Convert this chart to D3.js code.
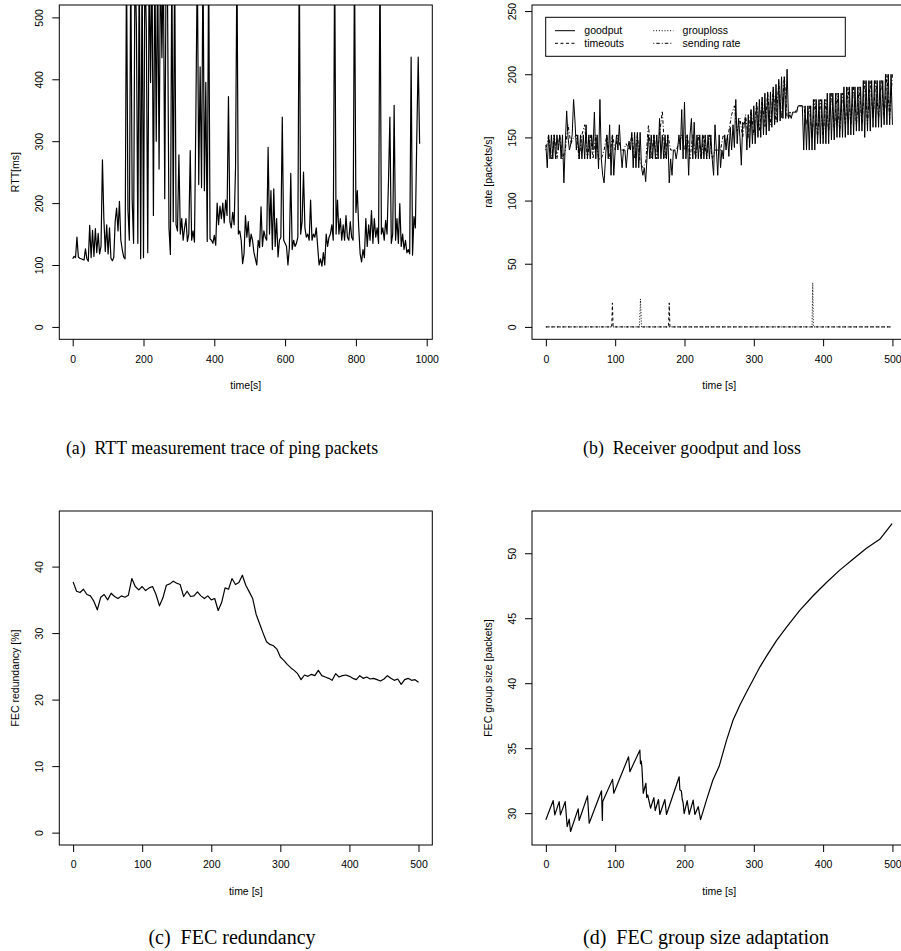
<!DOCTYPE html>
<html>
<head>
<meta charset="utf-8">
<script src="https://cdn.jsdelivr.net/npm/d3@7"></script>
<style>
  body { margin: 0; background: #fff; }
  svg { display: block; }
  .tick text, .axis-title, .legend text {
    font-family: 'Liberation Sans', Arial, Helvetica, sans-serif;
    font-size: 10.5px;
    fill: #000;
  }
  .caption {
    font-family: 'Liberation Serif', 'Times New Roman', serif;
    font-size: 20px;
    fill: #000;
  }
  .caption.top { font-size: 17.8px; }
</style>
</head>
<body>
<script>
// (a) RTT of ping packets, one sample every 4 s
const rttStart = 0;
const rttStep = 4;
const rttMs = [
  110, 114, 112, 145, 113, 111, 110, 109, 108, 126,
  110, 106, 164, 112, 156, 114, 159, 120, 151, 118,
  130, 270, 175, 122, 165, 118, 160, 111, 107, 112,
  170, 192, 155, 203, 140, 125, 113, 110, 600, 190,
  140, 600, 205, 135, 600, 485, 135, 600, 110, 600,
  112, 600, 480, 120, 600, 395, 600, 180, 600, 300,
  600, 255, 600, 435, 600, 207, 600, 520, 160, 117,
  600, 170, 600, 165, 155, 278, 150, 175, 140, 160,
  175, 138, 150, 285, 140, 155, 137, 345, 600, 230,
  420, 225, 600, 220, 395, 138, 600, 142, 140, 135,
  148, 132, 200, 165, 195, 175, 200, 168, 205, 180,
  372, 170, 160, 185, 165, 258, 600, 150, 155, 140,
  102, 118, 180, 145, 170, 130, 150, 140, 120, 110,
  100, 140, 128, 194, 130, 155, 145, 140, 290, 150,
  220, 125, 223, 130, 175, 113, 140, 145, 339, 140,
  135, 130, 100, 128, 248, 125, 140, 130, 135, 145,
  600, 150, 170, 250, 160, 145, 150, 140, 205, 140,
  150, 145, 160, 130, 100, 110, 98, 120, 100, 150,
  130, 145, 150, 165, 140, 600, 150, 205, 150, 175,
  140, 165, 140, 180, 145, 140, 170, 145, 140, 600,
  185, 220, 160, 118, 105, 125, 112, 175, 130, 165,
  140, 188, 135, 175, 145, 160, 135, 600, 150, 160,
  140, 172, 150, 234, 339, 135, 150, 358, 140, 175,
  135, 199, 130, 150, 125, 140, 120, 125, 118, 436,
  116, 178, 160, 307, 436, 296
];

// (b) receiver goodput (every 2 s) and sending rate (every 4 s)
const goodStep = 2;
const goodput = [
  144, 126, 152, 133, 152, 133, 152, 133, 152, 140,
  152, 133, 152, 114, 145, 171, 150, 140, 145, 152,
  180, 163, 140, 152, 133, 152, 133, 152, 133, 160,
  133, 152, 133, 152, 140, 170, 133, 152, 125, 180,
  133, 120, 114, 133, 152, 133, 160, 120, 152, 120,
  140, 152, 140, 160, 140, 126, 140, 140, 126, 140,
  147, 140, 154, 126, 154, 126, 154, 126, 154, 126,
  120, 126, 115, 135, 152, 133, 152, 133, 152, 133,
  152, 133, 165, 133, 152, 133, 152, 133, 152, 114,
  133, 120, 140, 140, 133, 140, 152, 140, 172, 133,
  178, 133, 152, 120, 152, 165, 133, 162, 133, 152,
  133, 152, 133, 152, 133, 152, 133, 152, 133, 152,
  133, 120, 160, 140, 120, 152, 126, 140, 133, 152,
  140, 152, 135, 158, 140, 160, 142, 180, 145, 165,
  150, 128, 162, 160, 165, 140, 168, 142, 172, 145,
  175, 145, 178, 150, 180, 150, 182, 152, 185, 152,
  186, 155, 186, 158, 190, 160, 192, 162, 196, 163,
  198, 165, 198, 165, 204, 165, 168, 165, 170, 170,
  170, 170, 175, 175, 175, 175, 140, 175, 140, 175,
  140, 175, 140, 180, 140, 180, 145, 180, 145, 180,
  145, 180, 145, 185, 145, 185, 148, 185, 148, 185,
  150, 185, 150, 185, 150, 190, 150, 190, 152, 190,
  152, 190, 152, 190, 155, 190, 155, 190, 155, 195,
  150, 195, 155, 195, 155, 195, 158, 195, 158, 195,
  158, 195, 158, 195, 160, 200, 160, 200, 160, 200,
  160
];
const sendStep = 4;
const sendingRate = [
  140, 152, 133, 152, 133, 152, 133, 140, 160, 145,
  150, 152, 133, 152, 160, 133, 152, 133, 152, 133,
  133, 140, 152, 133, 152, 140, 152, 140, 140, 145,
  140, 152, 133, 152, 130, 126, 130, 160, 133, 152,
  133, 152, 171, 133, 152, 140, 140, 140, 145, 152,
  140, 152, 133, 152, 133, 152, 133, 152, 133, 152,
  133, 140, 140, 140, 152, 145, 155, 168, 175, 155,
  165, 150, 168, 150, 172, 152, 178, 155, 180, 158,
  185, 160, 188, 162, 194, 165, 198, 166, 170, 168,
  170, 175, 175, 175, 160, 175, 150, 180, 150, 180,
  150, 180, 155, 185, 155, 185, 155, 185, 160, 190,
  160, 190, 160, 190, 160, 195, 160, 195, 165, 195,
  165, 195, 165, 200, 165, 200
];
const timeoutT = [0, 95, 96, 97, 177, 178, 179, 500];
const timeoutV = [0, 0, 19, 0, 0, 19, 0, 0];
const grouplossT = [0, 135, 136.5, 138, 384, 385, 386, 500];
const grouplossV = [0, 0, 22, 0, 0, 35, 0, 0];
const legendLabels = ['goodput', 'timeouts', 'grouploss', 'sending rate'];

// (c) FEC redundancy, every 5 s
const redStep = 5;
const redundancy = [
  37.7, 36.3, 36.1, 36.6, 35.8, 35.6, 34.8, 33.5, 35.4, 35.8,
  35.0, 36.0, 35.5, 35.2, 35.6, 35.4, 35.7, 38.2, 37.0, 36.5,
  37.0, 36.4, 36.8, 37.0, 35.8, 34.1, 35.3, 37.2, 37.4, 37.8,
  37.5, 37.3, 35.5, 36.3, 35.5, 35.6, 36.2, 35.6, 35.2, 35.6,
  35.0, 35.2, 33.4, 34.6, 36.8, 36.6, 38.2, 37.3, 37.6, 38.7,
  37.2, 36.2, 35.2, 32.8, 31.4, 30.0, 28.7, 28.3, 28.1, 27.6,
  26.4, 25.9, 25.3, 24.8, 24.4, 23.9, 23.0, 23.7, 23.5, 23.8,
  23.6, 24.4, 23.6, 23.4, 23.2, 22.9, 23.9, 23.4, 23.6, 23.7,
  23.5, 23.2, 23.0, 23.6, 23.2, 23.4, 23.1, 23.2, 23.0, 22.8,
  23.1, 23.6, 23.2, 22.9, 23.1, 22.3, 23.0, 23.2, 22.9, 23.0,
  22.6
];

// (d) FEC group size
const groupT = [
  0, 10.6, 12.9, 19.2, 21, 27.9, 30.8, 33.7, 35.6, 46.6,
  48, 60.1, 62.5, 80.3, 81.5, 82, 96.2, 98, 119.3, 121.2,
  135.6, 136.5, 137.5, 138.5, 140.5, 144.3, 145.5, 147, 148.5, 151,
  155.8, 157.7, 162.5, 164.4, 171.7, 174, 192.3, 193.3, 195.5, 196.8,
  198, 199.5, 203.9, 206.8, 212.5, 215, 219.8, 223.2, 231.7, 241,
  250, 260.6, 270, 279.8, 289.4, 299, 308.7, 318.3, 332.7, 347,
  366, 385.6, 404.8, 424, 443, 462.5, 481.7, 499.5
];
const groupV = [
  29.49, 30.97, 29.87, 30.89, 29.87, 30.89, 28.97, 29.54, 28.59, 30.33,
  29.44, 31.33, 29.23, 31.72, 29.44, 30.9, 32.6, 31.53, 34.34, 33.19,
  34.85, 33.8, 34.0, 33.6, 31.53, 32.3, 31.2, 31.4, 31.0, 30.38,
  31.2, 30.2, 31.05, 29.9, 31.05, 29.9, 32.8, 31.8, 31.7, 31.05,
  30.8, 29.97, 30.97, 29.9, 31.0, 29.9, 30.5, 29.5, 31.0, 32.55,
  33.6, 35.6, 37.15, 38.3, 39.3, 40.27, 41.24, 42.08, 43.28, 44.3,
  45.58, 46.73, 47.75, 48.7, 49.54, 50.38, 51.07, 52.27
];

const captions = [
  '(a)\u2002RTT measurement trace of ping packets',
  '(b)\u2002Receiver goodput and loss',
  '(c)\u2002FEC redundancy',
  '(d)\u2002FEC group size adaptation'
];

const svg = d3.select('body').append('svg')
  .attr('width', 901)
  .attr('height', 951);

function makePanel(p) {
  const x = d3.scaleLinear().domain(p.xlim).range([p.left, p.right]);
  const y = d3.scaleLinear().domain(p.ylim).range([p.bottom, p.top]);
  const g = svg.append('g');

  svg.append('clipPath').attr('id', 'clip-' + p.id)
    .append('rect')
    .attr('x', p.left).attr('y', p.top)
    .attr('width', p.right - p.left).attr('height', p.bottom - p.top);
  const plot = g.append('g').attr('clip-path', `url(#clip-${p.id})`);

  // x axis
  const xa = g.append('g')
    .attr('transform', `translate(0,${p.bottom})`)
    .call(d3.axisBottom(x).tickValues(p.xticks).tickSize(7).tickPadding(9).tickFormat(d3.format('d')));
  xa.select('.domain').remove();
  xa.selectAll('.tick text').attr('font-size', null).attr('font-family', null);

  // y axis, labels parallel to the axis like R
  const ya = g.append('g')
    .attr('transform', `translate(${p.left},0)`)
    .call(d3.axisLeft(y).tickValues(p.yticks).tickSize(7).tickFormat(d3.format('d')));
  ya.select('.domain').remove();
  ya.selectAll('.tick text')
    .attr('x', null).attr('dy', null)
    .attr('text-anchor', 'middle')
    .attr('transform', 'translate(-16,0) rotate(-90)');

  g.append('rect')
    .attr('x', p.left).attr('y', p.top)
    .attr('width', p.right - p.left).attr('height', p.bottom - p.top)
    .attr('fill', 'none').attr('stroke', '#000').attr('stroke-width', 1);

  g.append('text').attr('class', 'axis-title')
    .attr('x', (p.left + p.right) / 2).attr('y', p.bottom + 50)
    .attr('text-anchor', 'middle')
    .text(p.xTitle);

  g.append('text').attr('class', 'axis-title')
    .attr('transform', `translate(${p.left - 40},${(p.top + p.bottom) / 2}) rotate(-90)`)
    .attr('text-anchor', 'middle')
    .text(p.yTitle);

  return { x, y, plot };
}

function drawLine(panel, pts, width, dash) {
  panel.plot.append('path')
    .datum(pts)
    .attr('fill', 'none')
    .attr('stroke', '#000')
    .attr('stroke-width', width)
    .attr('stroke-linejoin', 'round')
    .attr('stroke-dasharray', dash)
    .attr('d', d3.line().x((d) => panel.x(d[0])).y((d) => panel.y(d[1])));
}

// panel (a)
const pa = makePanel({
  id: 'a', left: 59.3, right: 432.3, top: 5, bottom: 339.3,
  xlim: [-37.85, 1015.8], ylim: [-20, 520],
  xticks: [0, 200, 400, 600, 800, 1000], yticks: [0, 100, 200, 300, 400, 500],
  xTitle: 'time[s]', yTitle: 'RTT[ms]'
});
drawLine(pa, rttMs.map((v, i) => [rttStart + i * rttStep, v]), 1.2, null);

// panel (b)
const pb = makePanel({
  id: 'b', left: 532, right: 906.3, top: 5, bottom: 339.3,
  xlim: [-20, 520], ylim: [-9.8, 254.8],
  xticks: [0, 100, 200, 300, 400, 500], yticks: [0, 50, 100, 150, 200, 250],
  xTitle: 'time [s]', yTitle: 'rate [packets/s]'
});
const dashes = [null, '3,2.5', '1,1.8', '1,2,3.5,2'];
drawLine(pb, goodput.map((v, i) => [i * goodStep, v]), 1, dashes[0]);
drawLine(pb, timeoutT.map((t, i) => [t, timeoutV[i]]), 1, dashes[1]);
drawLine(pb, grouplossT.map((t, i) => [t, grouplossV[i]]), 1, dashes[2]);
drawLine(pb, sendingRate.map((v, i) => [i * sendStep, v]), 1, dashes[3]);

// legend
const leg = svg.append('g').attr('class', 'legend');
leg.append('rect')
  .attr('x', 545.7).attr('y', 17.3).attr('width', 299.6).attr('height', 39)
  .attr('fill', '#fff').attr('stroke', '#000').attr('stroke-width', 1);
legendLabels.forEach((label, i) => {
  const col = Math.floor(i / 2);
  const row = i % 2;
  const lx = 555 + col * 98.3;
  const ly = 30.7 + row * 12.6;
  leg.append('line')
    .attr('x1', lx).attr('x2', lx + 20).attr('y1', ly).attr('y2', ly)
    .attr('stroke', '#000').attr('stroke-width', 1)
    .attr('stroke-dasharray', dashes[i]);
  leg.append('text')
    .attr('x', lx + 29.3).attr('y', ly).attr('dy', '0.35em')
    .text(label);
});

// panel (c)
const pc = makePanel({
  id: 'c', left: 59.3, right: 432.3, top: 511, bottom: 845,
  xlim: [-20, 520], ylim: [-1.86, 48.36],
  xticks: [0, 100, 200, 300, 400, 500], yticks: [0, 10, 20, 30, 40],
  xTitle: 'time [s]', yTitle: 'FEC redundancy [%]'
});
drawLine(pc, redundancy.map((v, i) => [i * redStep, v]), 1.2, null);

// panel (d)
const pd = makePanel({
  id: 'd', left: 532, right: 906.3, top: 511, bottom: 845,
  xlim: [-20, 520], ylim: [27.55, 53.25],
  xticks: [0, 100, 200, 300, 400, 500], yticks: [30, 35, 40, 45, 50],
  xTitle: 'time [s]', yTitle: 'FEC group size [packets]'
});
drawLine(pd, groupT.map((t, i) => [t, groupV[i]]), 1.2, null);

// sub-figure captions
const capPos = [[222, 454], [692, 454], [232, 944], [706, 944]];
captions.forEach((c, i) => {
  svg.append('text').attr('class', i < 2 ? 'caption top' : 'caption')
    .attr('x', capPos[i][0]).attr('y', capPos[i][1])
    .attr('text-anchor', 'middle')
    .text(c);
});
</script>
</body>
</html>
